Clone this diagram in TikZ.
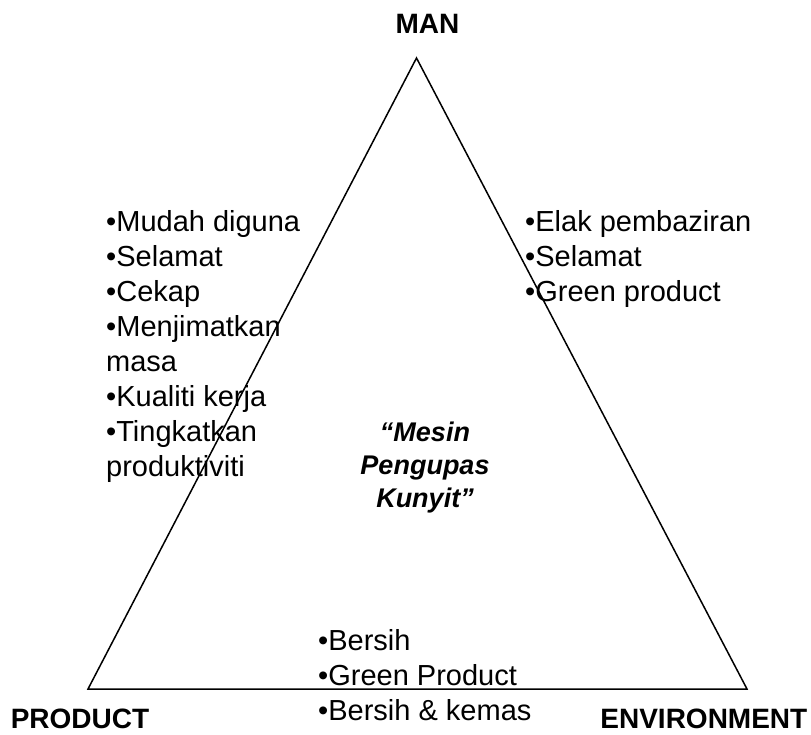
\documentclass[tikz,border=0pt]{standalone}
\usepackage{fontspec}
\setmainfont{Liberation Sans}
\begin{document}
\begin{tikzpicture}[x=1pt,y=-1pt,
  body/.style={inner sep=0pt,anchor=base west,font=\fontsize{29}{35}\selectfont},
  corner/.style={inner sep=0pt,anchor=base,font=\fontsize{28}{34}\selectfont\bfseries},
  title/.style={inner sep=0pt,anchor=base,font=\fontsize{27}{33}\selectfont\bfseries\itshape}]
\useasboundingbox (0,0) rectangle (811,734);
% triangle
\coordinate (top) at (416.5,58);
\coordinate (bl) at (88,689);
\coordinate (br) at (747,689);
\draw[line width=1.5pt,line join=miter] (top) -- (bl) -- (br) -- cycle;
% corner labels
\node[corner] (man) at (427.5,33) {MAN};
\node[corner] (product) at (80,728) {PRODUCT};
\node[corner,anchor=base east] (env) at (807.5,728) {ENVIRONMENT};
% left list
\node[body] (l1) at (106,231.5) {•Mudah diguna};
\node[body] (l2) at (106,266.5) {•Selamat};
\node[body] (l3) at (106,301.5) {•Cekap};
\node[body] (l4) at (106,336.5) {•Menjimatkan};
\node[body] (l5) at (106,371.5) {masa};
\node[body] (l6) at (106,406.5) {•Kualiti kerja};
\node[body] (l7) at (106,441.5) {•Tingkatkan};
\node[body] (l8) at (106,476.5) {produktiviti};
% right list
\node[body] (r1) at (525,231) {•Elak pembaziran};
\node[body] (r2) at (525,266) {•Selamat};
\node[body] (r3) at (525,301) {•Green product};
% bottom list
\node[body] (b1) at (318,650.5) {•Bersih};
\node[body] (b2) at (318,685) {•Green Product};
\node[body] (b3) at (318,720) {•Bersih \& kemas};
% centre title
\node[title] (t1) at (425,441) {“Mesin};
\node[title] (t2) at (425,474.5) {Pengupas};
\node[title] (t3) at (425,507) {Kunyit”};
\end{tikzpicture}
\end{document}
